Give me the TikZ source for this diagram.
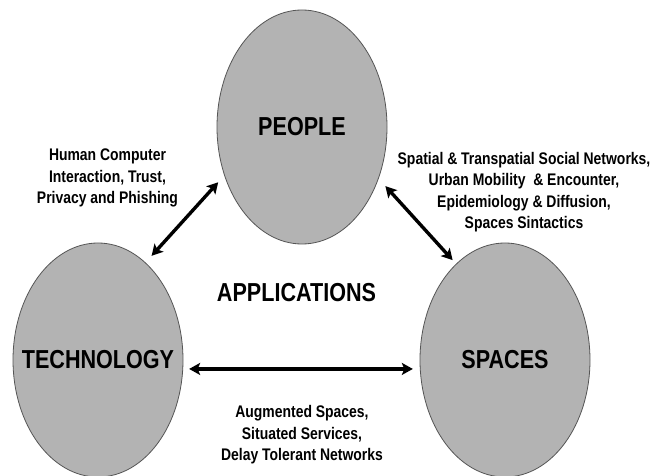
\documentclass[tikz,border=0pt]{standalone}
\usepackage{fontspec}
\setmainfont{Liberation Sans}[FakeStretch=0.83]
\usetikzlibrary{shapes.geometric,arrows.meta}
\definecolor{ellfill}{RGB}{179,179,179}
\definecolor{elldraw}{RGB}{85,85,85}
\begin{document}
\begin{tikzpicture}[x=1pt,y=-1pt,
  blob/.style={ellipse, draw=elldraw, line width=0.8pt, fill=ellfill,
    minimum width=170pt, minimum height=234pt, inner sep=0pt},
  big/.style={font=\fontsize{26}{30}\selectfont\bfseries, text=black},
  small/.style={align=center, font=\fontsize{16.8}{21.5}\selectfont\bfseries, text=black},
  link/.style={line width=3.4pt, black, {Stealth[length=11pt,width=12pt,inset=2.5pt]}-{Stealth[length=11pt,width=12pt,inset=2.5pt]}}]
\useasboundingbox (0,0) rectangle (654,476);
\fill[white] (0,0) rectangle (654,476);
\node[blob, label={[big]center:PEOPLE}] (people) at (302,127) {};
\node[blob, label={[big]center:TECHNOLOGY}] (tech) at (98,360) {};
\node[blob, label={[big]center:SPACES}] (spaces) at (505,360) {};
\node[big] (apps) at (296.5,293) {APPLICATIONS};
\node[small] (hci) at (107.5,178) {Human Computer\\Interaction, Trust,\\Privacy and Phishing};
\node[small] (soc) at (524,192) {Spatial \& Transpatial Social Networks,\\Urban Mobility~ \& Encounter,\\Epidemiology \& Diffusion,\\Spaces Sintactics};
\node[small] (aug) at (302,435) {Augmented Spaces,\\Situated Services,\\Delay Tolerant Networks};
\draw[link, shorten <=9pt, shorten >=9pt] (tech.64.7) -- (people.212.6);
\draw[link, shorten <=10pt, shorten >=5pt] (people.326.9) -- (spaces.117.7);
\draw[link, shorten <=6pt, shorten >=7pt] (tech.-6) -- (spaces.186);
\end{tikzpicture}
\end{document}
